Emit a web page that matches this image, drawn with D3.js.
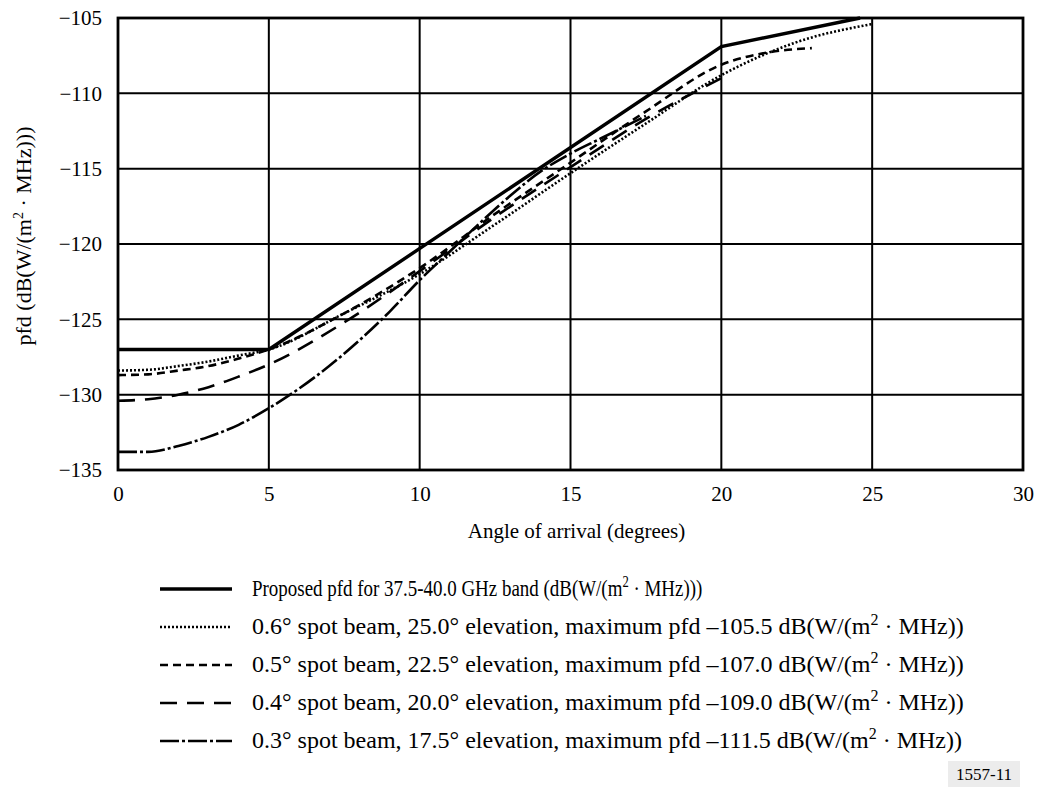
<!DOCTYPE html>
<html>
<head>
<meta charset="utf-8">
<script src="https://cdn.jsdelivr.net/npm/d3@7"></script>
<style>
  body { margin: 0; background: #fff; }
  text { font-family: "Liberation Serif", "Times New Roman", serif; fill: #000; }
</style>
</head>
<body>
<div id="chart"></div>
<script>
// angle of arrival (degrees) and pfd values
const proposedX = [0, 5, 20, 24.6]
const proposedY = [-127, -127, -106.9, -105]

const beam06X = [0, 1, 2, 3, 4, 5, 7.5, 10, 12.5, 15, 17.5, 20, 22.5, 25]
const beam06Y = [-128.4, -128.35, -128.1, -127.8, -127.4, -127.0, -124.6, -122.0, -118.7, -115.3, -112.0, -108.8, -106.6, -105.4]

const beam05X = [0, 1, 2, 3, 4, 5, 7.5, 10, 12.5, 15, 17.5, 20, 21.5, 23]
const beam05Y = [-128.7, -128.65, -128.4, -128.1, -127.6, -127.0, -124.6, -121.6, -118.0, -114.6, -111.2, -108.1, -107.3, -107.0]

const beam04X = [0, 1, 2, 3, 4, 5, 7.5, 10, 12.5, 15, 17.5, 20]
const beam04Y = [-130.4, -130.3, -130.0, -129.5, -128.8, -128.0, -125.2, -121.8, -118.2, -114.9, -111.7, -109.0]

const beam03X = [0, 1, 2, 3, 4, 5, 6, 7, 8, 9, 10, 11, 12, 13, 14, 15, 16, 17.5]
const beam03Y = [-133.8, -133.8, -133.4, -132.8, -132.0, -130.9, -129.6, -128.1, -126.4, -124.5, -122.4, -120.5, -118.6, -116.8, -115.2, -114.0, -113.0, -111.5]

const xTicks = [0, 5, 10, 15, 20, 25, 30]
const yTicks = [-105, -110, -115, -120, -125, -130, -135]

const legendLabels = [
    "Proposed pfd for 37.5-40.0 GHz band (dB(W/(m|2| · MHz)))",
    "0.6° spot beam, 25.0° elevation, maximum pfd –105.5 dB(W/(m|2| · MHz))",
    "0.5° spot beam, 22.5° elevation, maximum pfd –107.0 dB(W/(m|2| · MHz))",
    "0.4° spot beam, 20.0° elevation, maximum pfd –109.0 dB(W/(m|2| · MHz))",
    "0.3° spot beam, 17.5° elevation, maximum pfd –111.5 dB(W/(m|2| · MHz))"
]

const series = [
    { xs: proposedX, ys: proposedY, dash: null, width: 3.4, linear: true },
    { xs: beam06X, ys: beam06Y, dash: "2,2", width: 2.6 },
    { xs: beam05X, ys: beam05Y, dash: "8,5", width: 2.6 },
    { xs: beam04X, ys: beam04Y, dash: "17,10", width: 2.6 },
    { xs: beam03X, ys: beam03Y, dash: "19,3,3,3", width: 2.6 }
]

const W = 1043, H = 787
const margin = { top: 18, left: 118, right: 20, bottom: 317 }
const width = W - margin.left - margin.right
const height = H - margin.top - margin.bottom

const svg = d3.select("#chart").append("svg")
    .attr("width", W)
    .attr("height", H)

const g = svg.append("g")
    .attr("transform", "translate(" + margin.left + "," + margin.top + ")")

const x = d3.scaleLinear().domain([0, 30]).range([0, width])
const y = d3.scaleLinear().domain([-135, -105]).range([height, 0])

// grid
g.selectAll(".vgrid").data(xTicks).enter().append("line")
    .attr("x1", d => x(d)).attr("x2", d => x(d))
    .attr("y1", 0).attr("y2", height)
    .attr("stroke", "#000").attr("stroke-width", 2)

g.selectAll(".hgrid").data(yTicks).enter().append("line")
    .attr("x1", 0).attr("x2", width)
    .attr("y1", d => y(d)).attr("y2", d => y(d))
    .attr("stroke", "#000").attr("stroke-width", 2)

// axes (labels only, grid does the lines)
const xAxis = d3.axisBottom(x).tickValues(xTicks).tickSize(0).tickPadding(16)
const yAxis = d3.axisLeft(y).tickValues(yTicks).tickSize(0).tickPadding(16)
    .tickFormat(d => "\u2212" + Math.abs(d))

g.append("g").attr("transform", "translate(0," + height + ")").call(xAxis)
    .call(a => a.select(".domain").remove())
    .selectAll("text").style("font-size", "21px").style("font-family", "Liberation Serif")

g.append("g").call(yAxis)
    .call(a => a.select(".domain").remove())
    .selectAll("text").style("font-size", "21px").style("font-family", "Liberation Serif")

// frame
g.append("rect")
    .attr("width", width).attr("height", height)
    .attr("fill", "none").attr("stroke", "#000").attr("stroke-width", 2.8)

// curves
const smooth = d3.line().x(d => x(d[0])).y(d => y(d[1])).curve(d3.curveMonotoneX)
const straight = d3.line().x(d => x(d[0])).y(d => y(d[1]))

series.forEach(s => {
    const pts = s.xs.map((v, i) => [v, s.ys[i]])
    g.append("path")
        .attr("d", s.linear ? straight(pts) : smooth(pts))
        .attr("fill", "none")
        .attr("stroke", "#000")
        .attr("stroke-width", s.width)
        .attr("stroke-dasharray", s.dash)
})

// axis titles
svg.append("text")
    .attr("x", margin.left + width / 2 + 6).attr("y", 538)
    .attr("text-anchor", "middle")
    .style("font-size", "21px")
    .text("Angle of arrival (degrees)")

const yTitle = svg.append("text")
    .attr("transform", "translate(31," + (margin.top + height / 2 - 8) + ") rotate(-90)")
    .attr("text-anchor", "middle")
    .style("font-size", "22px")
yTitle.append("tspan").text("pfd (dB(W/(m")
yTitle.append("tspan").attr("dy", -8).style("font-size", "14px").text("2")
yTitle.append("tspan").attr("dy", 8).text(" · MHz)))")

// legend
const legend = svg.append("g")
legendLabels.forEach((lab, i) => {
    const ly = 596 + i * 38
    legend.append("line")
        .attr("x1", 160).attr("x2", 232)
        .attr("y1", ly - 7).attr("y2", ly - 7)
        .attr("stroke", "#000")
        .attr("stroke-width", series[i].width)
        .attr("stroke-dasharray", series[i].dash)
    const parts = lab.split("|")
    // first entry is set in a narrower face in the original
    const sx = i === 0 ? 0.79 : 1
    const t = legend.append("text")
        .attr("transform", "translate(252," + ly + ") scale(" + sx + ",1)")
        .style("font-size", "24px")
    t.append("tspan").text(parts[0])
    t.append("tspan").attr("dy", -9).style("font-size", "16px").text(parts[1])
    t.append("tspan").attr("dy", 9).text(parts[2])
})

// figure number
svg.append("rect")
    .attr("x", 948).attr("y", 761).attr("width", 72).attr("height", 26)
    .attr("fill", "#ececec")
svg.append("text")
    .attr("x", 984).attr("y", 780)
    .attr("text-anchor", "middle")
    .style("font-size", "17px")
    .text("1557-11")
</script>
</body>
</html>
